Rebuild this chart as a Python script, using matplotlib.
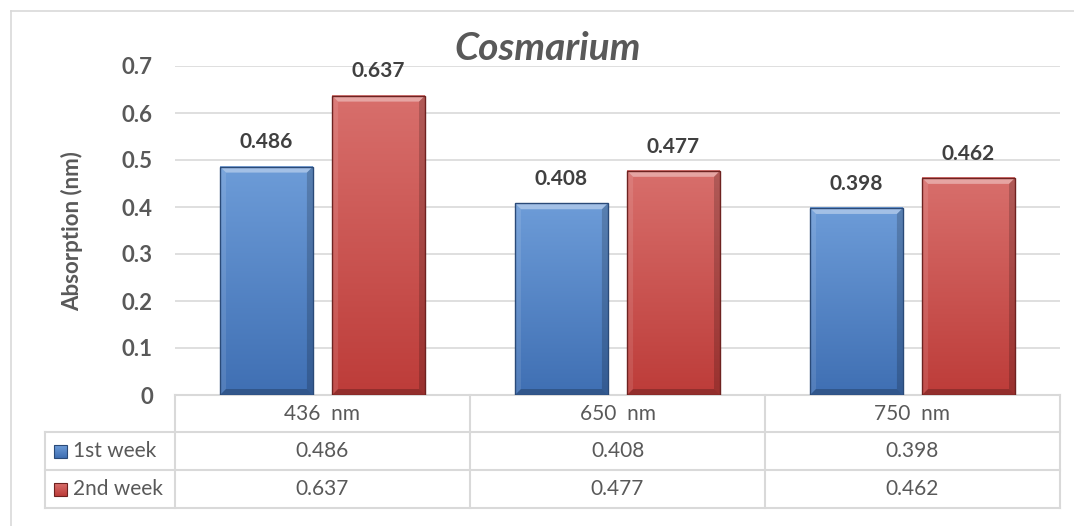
import numpy as np
import matplotlib
matplotlib.use("Agg")
import matplotlib.pyplot as plt
from matplotlib.patches import Rectangle, Polygon
from matplotlib.lines import Line2D
from matplotlib.colors import LinearSegmentedColormap
from matplotlib.transforms import blended_transform_factory

plt.rcParams['font.family'] = ['Lato', 'DejaVu Sans']

# data
categories = ["436  nm", "650  nm", "750  nm"]
series_names = ["1st week", "2nd week"]
week1 = [0.486, 0.408, 0.398]
week2 = [0.637, 0.477, 0.462]
yticks = [0, 0.1, 0.2, 0.3, 0.4, 0.5, 0.6, 0.7]

TEXT = "#595959"
GRID = "#d9d9d9"

# bar styling: (top colour, bottom colour, outline)
styles = [
    ("#6d9cd8", "#3f6fb3", "#2a4a78"),
    ("#d86f6c", "#bd3c39", "#6e2220"),
]

W, H = 1074, 526
fig = plt.figure(figsize=(W / 100, H / 100), dpi=100)
ax_left, ax_right, ax_top, ax_bottom = 175, 1060, 66, 395
ax = fig.add_axes([ax_left / W, 1 - ax_bottom / H,
                   (ax_right - ax_left) / W, (ax_bottom - ax_top) / H])

ymax = 0.7
x = np.arange(len(categories))
px_x = len(categories) / (ax_right - ax_left)     # data units per pixel
px_y = ymax / (ax_bottom - ax_top)

width = 0.315
offset = 0.19
bev = 6


def bevel_bar(xc, h, top, bottom, edge):
    x0, x1 = xc - width / 2, xc + width / 2
    cmap = LinearSegmentedColormap.from_list("g", [bottom, top])
    grad = np.linspace(0, 1, 256).reshape(-1, 1)
    ax.imshow(grad, extent=[x0, x1, 0, h], origin="lower", cmap=cmap,
              aspect="auto", zorder=2, interpolation="bicubic")
    bx, by = bev * px_x, bev * px_y
    # top bevel
    ax.add_patch(Polygon([(x0, h), (x1, h), (x1 - bx, h - by), (x0 + bx, h - by)],
                         closed=True, facecolor="white", alpha=0.38, lw=0, zorder=3))
    # left bevel
    ax.add_patch(Polygon([(x0, 0), (x0, h), (x0 + bx, h - by), (x0 + bx, by)],
                         closed=True, facecolor="white", alpha=0.10, lw=0, zorder=3))
    # right bevel
    ax.add_patch(Polygon([(x1, 0), (x1, h), (x1 - bx, h - by), (x1 - bx, by)],
                         closed=True, facecolor="black", alpha=0.18, lw=0, zorder=3))
    # bottom bevel
    ax.add_patch(Polygon([(x0, 0), (x1, 0), (x1 - bx, by), (x0 + bx, by)],
                         closed=True, facecolor="black", alpha=0.22, lw=0, zorder=3))
    ax.add_patch(Rectangle((x0, 0), width, h, facecolor="none",
                           edgecolor=edge, lw=1.0, zorder=4))
    ax.annotate(f"{h:.3f}", (xc, h), xytext=(0, 17.5), textcoords="offset points",
                ha="center", va="center", fontsize=15, fontweight="bold",
                color="#404040", annotation_clip=False, zorder=5)


for vals, sign, (top, bottom, edge) in zip([week1, week2], [-1, 1], styles):
    for xi, v in zip(x, vals):
        bevel_bar(xi + sign * offset, v, top, bottom, edge)

ax.set_xlim(-0.5, len(categories) - 0.5)
ax.set_ylim(0, ymax)
ax.set_yticks(yticks)
ax.set_yticklabels(["0" if t == 0 else f"{t:.1f}" for t in yticks],
                   fontsize=16, fontweight="bold", color=TEXT)
ax.tick_params(axis="y", length=0, pad=16)
ax.set_xticks([])
for s in ax.spines.values():
    s.set_visible(False)
for t in yticks[1:]:
    ax.axhline(t, color=GRID, lw=1.2, zorder=1)

# data table under the plot
tr = blended_transform_factory(ax.transData, ax.transAxes)
axh = ax_bottom - ax_top
rows_px = [395, 432, 470, 508]
rows = [(ax_bottom - r) / axh for r in rows_px]
x_leg = -0.5 - (ax_left - 45) * px_x
x_end = len(categories) - 0.5

def tline(xs, ys):
    ax.add_line(Line2D(xs, ys, transform=tr, color=GRID, lw=1.5, clip_on=False, zorder=1))

tline([-0.5, x_end], [rows[0], rows[0]])
for r in rows[1:]:
    tline([x_leg, x_end], [r, r])
tline([x_leg, x_leg], [rows[1], rows[3]])
for b in np.arange(-0.5, len(categories), 1.0):
    tline([b, b], [rows[0], rows[3]])

mid = [(rows[i] + rows[i + 1]) / 2 for i in range(3)]
for xi, cat in zip(x, categories):
    ax.text(xi, mid[0], cat, transform=tr, ha="center", va="center",
            fontsize=15, color=TEXT, clip_on=False)
for row, vals in zip(mid[1:], [week1, week2]):
    for xi, v in zip(x, vals):
        ax.text(xi, row, f"{v:.3f}", transform=tr, ha="center", va="center",
                fontsize=15, color=TEXT, clip_on=False)

# legend keys inside the table
key = 13
for row, name, (top, bottom, edge) in zip(mid[1:], series_names, styles):
    kx0 = x_leg + (54 - 45) * px_x
    ky = row - (key / 2) / axh
    cmap = LinearSegmentedColormap.from_list("k", [bottom, top])
    ax.imshow(np.linspace(0, 1, 32).reshape(-1, 1), origin="lower", cmap=cmap,
              extent=[kx0, kx0 + key * px_x, ky, ky + key / axh], transform=tr,
              aspect="auto", clip_on=False, zorder=3)
    ax.add_patch(Rectangle((kx0, ky), key * px_x, key / axh, transform=tr,
                           facecolor="none", edgecolor=edge, lw=0.8,
                           clip_on=False, zorder=4))
    ax.text(x_leg + (73 - 45) * px_x, row, name, transform=tr, ha="left",
            va="center", fontsize=15, color=TEXT, clip_on=False)

ax.set_xlim(-0.5, len(categories) - 0.5)
ax.set_ylim(0, ymax)

# title and axis title
fig.text(548 / W, 1 - 49 / H, "Cosmarium", ha="center", va="center",
         fontsize=28, fontweight="bold", fontstyle="italic", color=TEXT)
fig.text(72 / W, 1 - 231 / H, "Absorption (nm)", rotation=90, ha="center",
         va="center", fontsize=16, fontweight="bold", color=TEXT)

# chart area border
fig.add_artist(Line2D([11 / W, 11 / W], [0, 1 - 11 / H], transform=fig.transFigure,
                      color=GRID, lw=1.2))
fig.add_artist(Line2D([11 / W, 1], [1 - 11 / H, 1 - 11 / H], transform=fig.transFigure,
                      color=GRID, lw=1.2))

fig.savefig("out.png", dpi=100)
